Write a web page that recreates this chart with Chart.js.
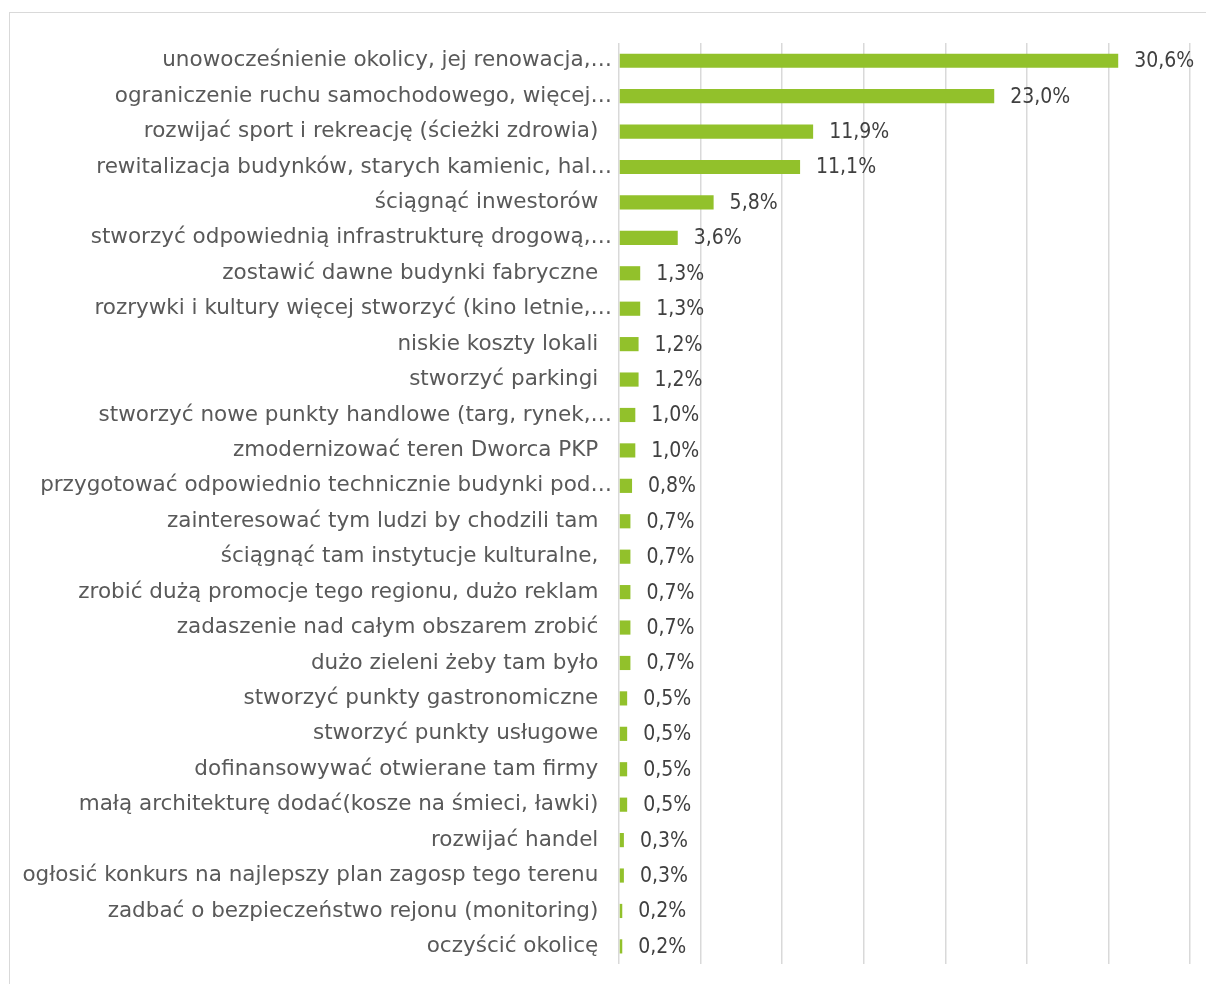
<!DOCTYPE html>
<html lang="pl">
<head>
  <meta charset="UTF-8">
  <title>Wykres</title>
  <script src="https://cdn.jsdelivr.net/npm/chart.js"></script>
  <style>
    html, body {
      margin: 0;
      padding: 0;
      background: #fff;
      overflow: hidden;
    }
    .frame {
      position: absolute;
      left: 9px;
      top: 12px;
      width: 1300px;
      height: 1100px;
      border: 1px solid #d9d9d9;
    }
    .chart-box {
      position: absolute;
      left: 0;
      top: 0;
      width: 1206px;
      height: 984px;
    }
  </style>
</head>
<body>
  <div class="frame"></div>
  <div class="chart-box">
    <canvas id="barChart"></canvas>
  </div>

  <script>
    // categories (top to bottom) and their shares in %
    const categories = [
      'unowocześnienie okolicy, jej renowacja,…',
      'ograniczenie ruchu samochodowego, więcej…',
      'rozwijać sport i rekreację (ścieżki zdrowia)  ',
      'rewitalizacja budynków, starych kamienic, hal…',
      'ściągnąć inwestorów  ',
      'stworzyć odpowiednią infrastrukturę drogową,…',
      'zostawić dawne budynki fabryczne  ',
      'rozrywki i kultury więcej stworzyć (kino letnie,…',
      'niskie koszty lokali  ',
      'stworzyć parkingi  ',
      'stworzyć nowe punkty handlowe (targ, rynek,…',
      'zmodernizować teren Dworca PKP  ',
      'przygotować odpowiednio technicznie budynki pod…',
      'zainteresować tym ludzi by chodzili tam  ',
      'ściągnąć tam instytucje kulturalne,  ',
      'zrobić dużą promocje tego regionu, dużo reklam  ',
      'zadaszenie nad całym obszarem zrobić  ',
      'dużo zieleni żeby tam było  ',
      'stworzyć punkty gastronomiczne  ',
      'stworzyć punkty usługowe  ',
      'dofinansowywać otwierane tam firmy  ',
      'małą architekturę dodać(kosze na śmieci, ławki)  ',
      'rozwijać handel  ',
      'ogłosić konkurs na najlepszy plan zagosp tego terenu  ',
      'zadbać o bezpieczeństwo rejonu (monitoring)  ',
      'oczyścić okolicę  '
    ];
    const shares = [
      30.6, 23.0, 11.9, 11.1, 5.8, 3.6, 1.3, 1.3, 1.2, 1.2, 1.0, 1.0, 0.8,
      0.7, 0.7, 0.7, 0.7, 0.7, 0.5, 0.5, 0.5, 0.5, 0.3, 0.3, 0.2, 0.2
    ];
    const axisMax = 35;
    const axisStep = 5;

    const labelColor = '#595959';
    const valueColor = '#404040';
    const labelFont = '"DejaVu Sans", sans-serif';
    const valueFont = '"DejaVu Sans Condensed", "DejaVu Sans", sans-serif';

    function formatPct(v) {
      return v.toFixed(1).replace('.', ',') + '%';
    }

    // draws the value next to the end of each bar
    const valueLabels = {
      id: 'valueLabels',
      afterDatasetsDraw(chart) {
        const ctx = chart.ctx;
        const meta = chart.getDatasetMeta(0);
        ctx.save();
        ctx.fillStyle = valueColor;
        ctx.font = '21px ' + valueFont;
        ctx.textAlign = 'left';
        ctx.textBaseline = 'middle';
        meta.data.forEach((bar, i) => {
          ctx.fillText(formatPct(shares[i]), bar.x + 16, bar.y + 1);
        });
        ctx.restore();
      }
    };

    const ctx = document.getElementById('barChart').getContext('2d');
    new Chart(ctx, {
      type: 'bar',
      data: {
        labels: categories,
        datasets: [{
          data: shares,
          backgroundColor: '#92c12b',
          barPercentage: 0.8,
          categoryPercentage: 0.5
        }]
      },
      options: {
        indexAxis: 'y',
        responsive: true,
        maintainAspectRatio: false,
        animation: false,
        layout: {
          padding: { top: 43, bottom: 5, left: 0, right: 16 }
        },
        plugins: {
          legend: { display: false },
          tooltip: { enabled: false }
        },
        scales: {
          x: {
            min: 0,
            max: axisMax,
            ticks: { display: false, stepSize: axisStep, padding: 0 },
            grid: { color: '#d9d9d9', lineWidth: 1.5, drawTicks: false },
            border: { display: false },
            afterFit: s => { s.height = 0; }
          },
          y: {
            grid: { display: false, drawTicks: false },
            border: { display: false },
            ticks: {
              color: labelColor,
              padding: 7,
              autoSkip: false,
              font: { family: labelFont, size: 21.5 }
            },
            afterFit: s => { s.width = 619; }
          }
        }
      },
      plugins: [valueLabels]
    });
  </script>
</body>
</html>
